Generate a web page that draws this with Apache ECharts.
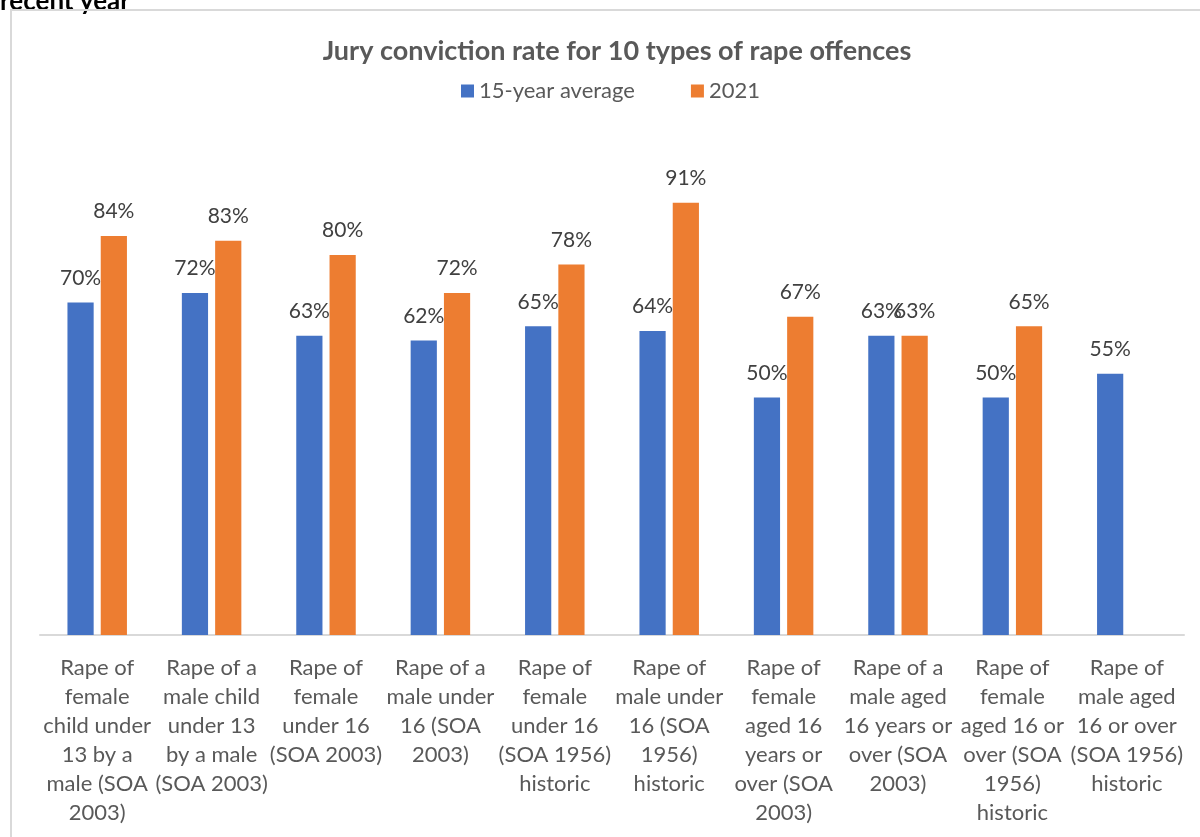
<!DOCTYPE html>
<html lang="en">
<head>
    <meta charset="UTF-8">
    <title>Jury conviction rate</title>
    <style>
        html, body { margin: 0; padding: 0; background: #fff; }
        #main { width: 1200px; height: 837px; }
    </style>
</head>
<body>
    <div id="main"></div>
    <script src="https://cdn.jsdelivr.net/npm/echarts@6/dist/echarts.min.js"></script>
    <script>
        // data
        var categories = [
            'Rape of\nfemale\nchild under\n13 by a\nmale (SOA\n2003)',
            'Rape of a\nmale child\nunder 13\nby a male\n(SOA 2003)',
            'Rape of\nfemale\nunder 16\n(SOA 2003)',
            'Rape of a\nmale under\n16 (SOA\n2003)',
            'Rape of\nfemale\nunder 16\n(SOA 1956)\nhistoric',
            'Rape of\nmale under\n16 (SOA\n1956)\nhistoric',
            'Rape of\nfemale\naged 16\nyears or\nover (SOA\n2003)',
            'Rape of a\nmale aged\n16 years or\nover (SOA\n2003)',
            'Rape of\nfemale\naged 16 or\nover (SOA\n1956)\nhistoric',
            'Rape of\nmale aged\n16 or over\n(SOA 1956)\nhistoric'
        ];
        var avg15 = [70, 72, 63, 62, 65, 64, 50, 63, 50, 55];
        var y2021 = [84, 83, 80, 72, 78, 91, 67, 63, 65, null];

        var font = 'Lato, "Open Sans", sans-serif';
        var myChart = echarts.init(document.getElementById('main'));

        var label = {
            show: true,
            position: 'top',
            distance: 14,
            formatter: '{c}%',
            color: '#404040',
            fontSize: 21,
            fontFamily: font
        };

        var option = {
            animation: false,
            graphic: [
                {
                    type: 'text',
                    left: 0,
                    top: -11,
                    style: { text: 'recent year', font: 'bold 26px ' + font, fill: '#000' }
                },
                {
                    type: 'rect',
                    shape: { x: 11, y: 10, width: 1220, height: 860 },
                    style: { fill: 'none', stroke: '#d9d9d9', lineWidth: 2 },
                    silent: true
                }
            ],
            title: {
                text: 'Jury conviction rate for 10 types of rape offences',
                left: 612,
                textAlign: 'center',
                top: 33,
                textStyle: { fontSize: 27, fontWeight: 'bold', color: '#595959', fontFamily: font }
            },
            legend: {
                data: ['15-year average', '2021'],
                left: 456,
                top: 75,
                itemWidth: 13,
                itemHeight: 13,
                itemGap: 56,
                icon: 'rect',
                textStyle: { fontSize: 22, color: '#595959', fontFamily: font }
            },
            grid: { left: 40, right: 16, top: 160, bottom: 202, containLabel: false },
            xAxis: {
                type: 'category',
                data: categories,
                axisLine: { lineStyle: { color: '#d9d9d9', width: 2 } },
                axisTick: { show: false },
                axisLabel: {
                    interval: 0,
                    margin: 18,
                    color: '#595959',
                    fontSize: 22,
                    lineHeight: 29,
                    fontFamily: font
                }
            },
            yAxis: {
                type: 'value',
                min: 0,
                max: 100,
                show: false,
                splitLine: { show: false }
            },
            series: [
                {
                    name: '15-year average',
                    type: 'bar',
                    data: avg15,
                    barGap: '27%',
                    barCategoryGap: '48%',
                    itemStyle: { color: '#4472c4' },
                    label: label
                },
                {
                    name: '2021',
                    type: 'bar',
                    data: y2021,
                    itemStyle: { color: '#ed7d31' },
                    label: label
                }
            ]
        };
        myChart.setOption(option);
    </script>
</body>
</html>
